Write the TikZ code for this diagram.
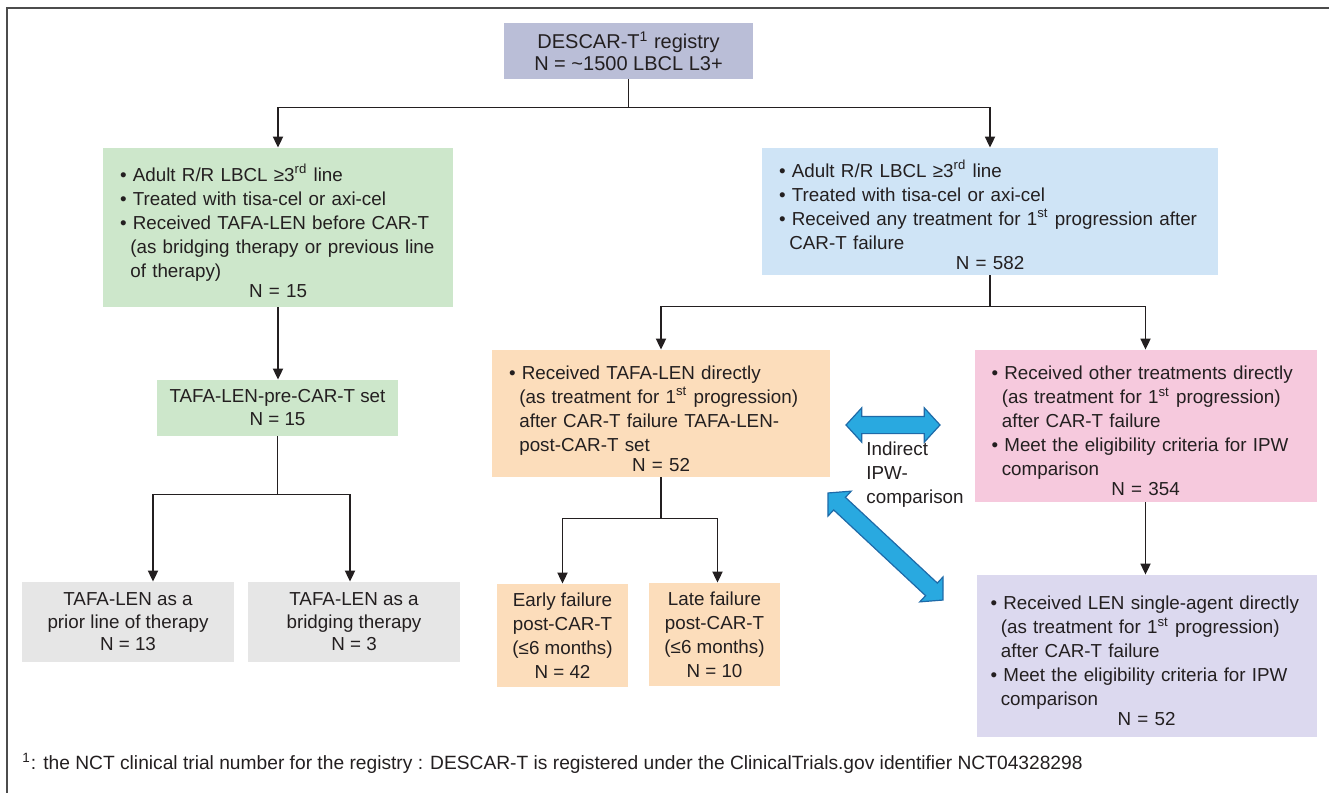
\documentclass[tikz,border=0pt]{standalone}
\usepackage{fontspec}
\setmainfont{Liberation Sans}
\usepackage{tikz}
\usetikzlibrary{positioning,arrows.meta,shapes.arrows}
\definecolor{regbox}{RGB}{186,190,215}
\definecolor{preset}{RGB}{205,231,203}
\definecolor{allbox}{RGB}{207,228,246}
\definecolor{tafabox}{RGB}{252,221,187}
\definecolor{othbox}{RGB}{246,201,221}
\definecolor{lenbox}{RGB}{220,217,239}
\definecolor{subbox}{RGB}{230,230,230}
\definecolor{ipwblue}{RGB}{41,169,224}
\definecolor{ipwdark}{RGB}{30,106,168}
\definecolor{inktext}{RGB}{35,31,32}

\newcommand{\bitem}{\par\hangindent=0.55em\hangafter=1\noindent\textbullet\ }
\newcommand{\nline}[1]{\par\vspace{-2pt}{\centering N = #1\par}}

\begin{document}
\begin{tikzpicture}[
    x=0.5pt, y=-0.5pt,
    every node/.style={text=inktext, font=\fontsize{9.4}{12}\selectfont},
    flowbox/.style={inner ysep=0pt, align=center},
    listbox/.style={inner xsep=8.5pt, inner ysep=0pt, align=left},
    conn/.style={line width=0.9pt, inktext, -{Triangle[width=5pt,length=5.5pt]}},
    ipw/.style={double arrow, fill=ipwblue, draw=ipwdark, line width=0.6pt,
      inner xsep=0pt, inner ysep=4pt, double arrow head extend=4.25pt,
      double arrow tip angle=95}
  ]
    \useasboundingbox (0,0) rectangle (1329,793);
    \draw[line width=1pt, black!70] (7,793) -- (7,8) -- (1329,8);

    % registry
    \node[flowbox, fill=regbox, minimum width=124.5pt, minimum height=28pt,
      font=\fontsize{10}{11}\selectfont] (reg) at (628.5,51)
      {DESCAR-T\textsuperscript{1} registry\\N = \textasciitilde1500 LBCL L3+};

    % level 1
    \node[listbox, fill=preset, text width=158pt, minimum height=79.5pt] (pre) at (278,227.5) {%
      \bitem Adult R/R LBCL ≥3\textsuperscript{rd} line
      \bitem Treated with tisa-cel or axi-cel
      \bitem Received TAFA-LEN before CAR-T\newline(as bridging therapy or previous line\newline of therapy)
      \nline{15}};
    \node[listbox, fill=allbox, text width=211pt, minimum height=63.5pt] (all) at (990,211.5) {%
      \bitem Adult R/R LBCL ≥3\textsuperscript{rd} line
      \bitem Treated with tisa-cel or axi-cel
      \bitem Received any treatment for 1\textsuperscript{st} progression after\newline CAR-T failure
      \nline{582}};

    % level 2
    \node[flowbox, fill=preset, minimum width=120.5pt, minimum height=28pt,
      font=\fontsize{9.4}{11.5}\selectfont] (preset) at (277.5,408)
      {TAFA-LEN-pre-CAR-T set\\N = 15};
    \node[listbox, fill=tafabox, text width=152pt, minimum height=63.5pt] (post) at (661,413.5) {%
      \bitem Received TAFA-LEN directly\newline(as treatment for 1\textsuperscript{st} progression)\newline after CAR-T failure TAFA-LEN-\newline post-CAR-T set
      \nline{52}};
    \node[listbox, fill=othbox, text width=154pt, minimum height=76pt] (oth) at (1145.5,426) {%
      \bitem Received other treatments directly\newline(as treatment for 1\textsuperscript{st} progression)\newline after CAR-T failure
      \bitem Meet the eligibility criteria for IPW\newline comparison
      \nline{354}};

    % level 3
    \node[flowbox, fill=subbox, minimum width=106pt, minimum height=40pt,
      font=\fontsize{9.4}{11.3}\selectfont] (prior) at (128,622)
      {TAFA-LEN as a\\prior line of therapy\\N = 13};
    \node[flowbox, fill=subbox, minimum width=106pt, minimum height=40pt,
      font=\fontsize{9.4}{11.3}\selectfont] (bridge) at (354,622)
      {TAFA-LEN as a\\bridging therapy\\N = 3};
    \node[flowbox, fill=tafabox, minimum width=65.5pt, minimum height=51.5pt] (early) at (562.5,635.5)
      {Early failure\\post-CAR-T\\(≤6 months)\\N = 42};
    \node[flowbox, fill=tafabox, minimum width=65.5pt, minimum height=51.5pt] (late) at (714.5,634.5)
      {Late failure\\post-CAR-T\\(≤6 months)\\N = 10};
    \node[listbox, inner xsep=7pt, fill=lenbox, text width=156pt, minimum height=81pt] (len) at (1146.5,656) {%
      \bitem Received LEN single-agent directly\newline(as treatment for 1\textsuperscript{st} progression)\newline after CAR-T failure
      \bitem Meet the eligibility criteria for IPW\newline comparison
      \nline{52}};

    % IPW comparison arrows
    \node[ipw, minimum height=47pt] (ipwh) at (893,425) {};
    \node[ipw, minimum height=78.5pt, rotate=-43] (ipwd) at (885.5,546.5) {};
    \node[anchor=north west, inner sep=0pt, align=left] (ipwlab) at (866,441)
      {Indirect\\IPW-\\comparison};

    % connectors
    \draw[conn] (reg.south) -- ++(0,28) -| (pre.north);
    \draw[conn] (reg.south) -- ++(0,28) -| (all.north);
    \draw[conn] (pre.south) -- (pre.south |- preset.north);
    \draw[conn] (preset.south) -- ++(0,58) -| ([xshift=12.5pt]prior.north);
    \draw[conn] (preset.south) -- ++(0,58) -| ([xshift=-2pt]bridge.north);
    \draw[conn] (all.south) -- ++(0,31) -| (post.north);
    \draw[conn] (all.south) -- ++(0,31) -| (oth.north);
    \draw[conn] (post.south) -- ++(0,41) -| (early.north);
    \draw[conn] (post.south) -- ++(0,41) -| ([xshift=1.5pt]late.north);
    \draw[conn] (oth.south) -- (oth.south |- len.north);

    % footnote
    \node[anchor=west, inner sep=0pt, font=\fontsize{9.6}{11}\selectfont] (fnote) at (22,763)
      {\textsuperscript{1}: the NCT clinical trial number for the registry : DESCAR-T is registered under the ClinicalTrials.gov identifier NCT04328298};
  \end{tikzpicture}
\end{document}
